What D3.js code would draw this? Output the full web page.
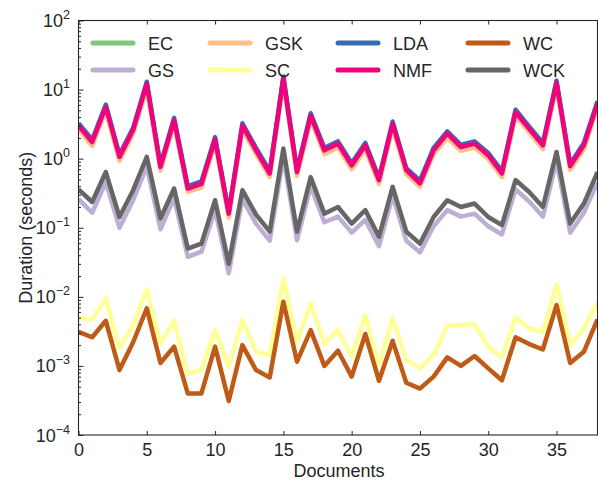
<!DOCTYPE html>
<html>
<head>
<meta charset="utf-8">
<script src="https://cdn.jsdelivr.net/npm/d3@7/dist/d3.min.js"></script>
<style>
  html, body { margin: 0; padding: 0; background: #fff; }
  svg { display: block; font-family: "Liberation Sans", Arial, sans-serif; }
</style>
</head>
<body>
<svg id="chart" width="598" height="482"></svg>
<script>
// ---- data ----
const documents = d3.range(0, 39);
const seriesNames = ["EC", "GS", "GSK", "SC", "LDA", "NMF", "WC", "WCK"];
const seriesColors = ["#7fc97f", "#beaed4", "#fdc086", "#ffff99", "#386cb0", "#f0027f", "#bf5b17", "#666666"];
const xTicks = [0, 5, 10, 15, 20, 25, 30, 35];
const yTickExponents = [-4, -3, -2, -1, 0, 1, 2];

const EC  = [2.95, 1.72, 5.5, 1.04, 2.55, 11.8, 0.75, 3.55, 0.36, 0.42, 1.87, 0.158, 2.95, 1.3, 0.6, 14.2, 0.63, 4.1, 1.3, 1.62, 0.79, 1.53, 0.48, 3.15, 0.67, 0.43, 1.3, 2.25, 1.44, 1.62, 1.1, 0.6, 4.6, 2.65, 1.53, 12.3, 0.77, 1.53, 6.2];
const GS  = [0.26, 0.165, 0.46, 0.1, 0.25, 0.77, 0.095, 0.27, 0.038, 0.045, 0.18, 0.022, 0.26, 0.115, 0.065, 1.05, 0.066, 0.40, 0.12, 0.145, 0.085, 0.13, 0.054, 0.29, 0.065, 0.044, 0.105, 0.18, 0.145, 0.16, 0.105, 0.08, 0.36, 0.24, 0.145, 0.92, 0.085, 0.165, 0.46];
const GSK = [2.65, 1.53, 4.9, 0.93, 2.3, 10.6, 0.67, 3.2, 0.33, 0.38, 1.67, 0.14, 2.65, 1.16, 0.54, 12.8, 0.56, 3.7, 1.16, 1.45, 0.70, 1.37, 0.43, 2.8, 0.60, 0.39, 1.16, 2.0, 1.3, 1.45, 0.99, 0.54, 4.15, 2.4, 1.37, 11.0, 0.69, 1.37, 5.5];
const SC  = [0.005, 0.0047, 0.0095, 0.0018, 0.0039, 0.0128, 0.0021, 0.0045, 0.00076, 0.00089, 0.0033, 0.00097, 0.0046, 0.0016, 0.00144, 0.0184, 0.0022, 0.0081, 0.0021, 0.0033, 0.00136, 0.0054, 0.00103, 0.0049, 0.00122, 0.00092, 0.00144, 0.0038, 0.0039, 0.004, 0.0019, 0.00133, 0.005, 0.0035, 0.0031, 0.0152, 0.002, 0.0035, 0.0085];
const LDA = [3.25, 1.88, 6.05, 1.15, 2.8, 13.0, 0.82, 3.9, 0.40, 0.47, 2.05, 0.17, 3.25, 1.43, 0.66, 15.5, 0.69, 4.55, 1.43, 1.78, 0.86, 1.69, 0.53, 3.45, 0.73, 0.48, 1.43, 2.48, 1.59, 1.78, 1.21, 0.66, 5.1, 2.9, 1.69, 13.5, 0.84, 1.69, 6.8];
const NMF = [3.0, 1.74, 5.6, 1.06, 2.6, 12.1, 0.76, 3.6, 0.37, 0.43, 1.9, 0.16, 3.0, 1.32, 0.61, 14.5, 0.64, 4.2, 1.32, 1.65, 0.80, 1.56, 0.49, 3.2, 0.68, 0.44, 1.32, 2.3, 1.47, 1.65, 1.12, 0.61, 4.7, 2.7, 1.56, 12.5, 0.78, 1.56, 6.3];
const WC  = [0.0031, 0.0026, 0.0045, 0.00087, 0.0022, 0.0068, 0.0011, 0.0019, 0.0004, 0.0004, 0.0019, 0.00031, 0.002, 0.00087, 0.00068, 0.0085, 0.00115, 0.0033, 0.001, 0.00166, 0.0007, 0.0029, 0.00061, 0.0023, 0.00057, 0.00047, 0.0007, 0.00133, 0.001, 0.00139, 0.00092, 0.00062, 0.0026, 0.00207, 0.00173, 0.0076, 0.0011, 0.0016, 0.0047];
const WCK = [0.36, 0.236, 0.64, 0.143, 0.35, 1.06, 0.136, 0.37, 0.05, 0.059, 0.25, 0.03, 0.35, 0.155, 0.088, 1.4, 0.088, 0.54, 0.16, 0.2, 0.115, 0.18, 0.074, 0.39, 0.088, 0.059, 0.143, 0.25, 0.2, 0.224, 0.143, 0.109, 0.49, 0.33, 0.2, 1.25, 0.115, 0.224, 0.64];

const seriesValues = [EC, GS, GSK, SC, LDA, NMF, WC, WCK];

// ---- layout ----
const svg = d3.select("#chart");
const margin = { left: 78.5, right: 0.5, top: 20.5, bottom: 47 };
const W = 598, H = 482;
const x0 = margin.left, x1 = W - margin.right, y0 = margin.top, y1 = H - margin.bottom;

const x = d3.scaleLinear().domain([0, 38]).range([x0, x1]);
const y = d3.scaleLog().domain([1e-4, 1e2]).range([y1, y0]);

const axisColor = "#262626";
const fontSize = 18;

// clip
svg.append("defs").append("clipPath").attr("id", "clip")
  .append("rect").attr("x", x0).attr("y", y0).attr("width", x1 - x0).attr("height", y1 - y0);

// lines
const line = d3.line().x((d, i) => x(documents[i])).y(d => y(d));
const g = svg.append("g").attr("clip-path", "url(#clip)");
seriesValues.forEach((vals, k) => {
  g.append("path")
    .attr("d", line(vals))
    .attr("fill", "none")
    .attr("stroke", seriesColors[k])
    .attr("stroke-width", 4.5)
    .attr("stroke-linejoin", "round")
    .attr("stroke-linecap", "butt");
});

// axes with inward ticks
const minorTicks = [];
for (let e = -4; e < 2; e++) for (let m = 2; m <= 9; m++) minorTicks.push(m * Math.pow(10, e));

const yAxis = d3.axisLeft(y).tickValues(yTickExponents.map(e => Math.pow(10, e))).tickSize(-5).tickFormat("");
const gy = svg.append("g").attr("transform", `translate(${x0},0)`).call(yAxis);
gy.select(".domain").remove();
gy.selectAll(".tick line").attr("stroke", axisColor);

const gyMinor = svg.append("g").attr("transform", `translate(${x0},0)`)
  .call(d3.axisLeft(y).tickValues(minorTicks).tickSize(-2.5).tickFormat(""));
gyMinor.select(".domain").remove();
gyMinor.selectAll(".tick line").attr("stroke", axisColor);

// y tick labels with superscripts
const ylab = svg.append("g");
yTickExponents.forEach(e => {
  const t = ylab.append("text")
    .attr("x", x0 - 8.5)
    .attr("y", y(Math.pow(10, e)) + 6.5)
    .attr("text-anchor", "end")
    .attr("fill", axisColor)
    .attr("font-size", fontSize);
  t.append("tspan").text("10");
  t.append("tspan").attr("font-size", 12.5).attr("dy", -8).text(String(e).replace("-", "\u2212"));
});

const xAxis = d3.axisBottom(x).tickValues(xTicks).tickSize(-4).tickPadding(8).tickFormat(d3.format("d"));
const gx = svg.append("g").attr("transform", `translate(0,${y1})`).call(xAxis);
gx.select(".domain").remove();
gx.selectAll(".tick line").attr("stroke", axisColor);
gx.selectAll(".tick text").attr("font-size", fontSize).attr("fill", axisColor)
  .attr("font-family", "'Liberation Sans', Arial, sans-serif");

const gxTop = svg.append("g").attr("transform", `translate(0,${y0})`)
  .call(d3.axisTop(x).tickValues(xTicks).tickSize(-4).tickFormat(""));
gxTop.select(".domain").remove();
gxTop.selectAll(".tick line").attr("stroke", axisColor);

// frame
svg.append("rect").attr("x", x0).attr("y", y0).attr("width", x1 - x0).attr("height", y1 - y0)
  .attr("fill", "none").attr("stroke", axisColor).attr("stroke-width", 1.1);

// axis labels
svg.append("text").attr("x", 339).attr("y", 477).attr("text-anchor", "middle")
  .attr("font-size", fontSize).attr("fill", axisColor).text("Documents");
svg.append("text").attr("transform", `translate(32,${(y0 + y1) / 2}) rotate(-90)`)
  .attr("text-anchor", "middle").attr("font-size", fontSize).attr("fill", axisColor).text("Duration (seconds)");

// legend: 4 columns x 2 rows, column-major
const legX = [93, 210, 338, 468];
const legY = [43, 70];
const leg = svg.append("g");
seriesNames.forEach((name, k) => {
  const c = Math.floor(k / 2), r = k % 2;
  leg.append("line").attr("x1", legX[c]).attr("x2", legX[c] + 40)
    .attr("y1", legY[r]).attr("y2", legY[r])
    .attr("stroke", seriesColors[k]).attr("stroke-width", 5).attr("stroke-linecap", "round");
  leg.append("text").attr("x", legX[c] + 55).attr("y", legY[r] + 6.5)
    .attr("font-size", fontSize).attr("fill", axisColor).text(name);
});
</script>
</body>
</html>
